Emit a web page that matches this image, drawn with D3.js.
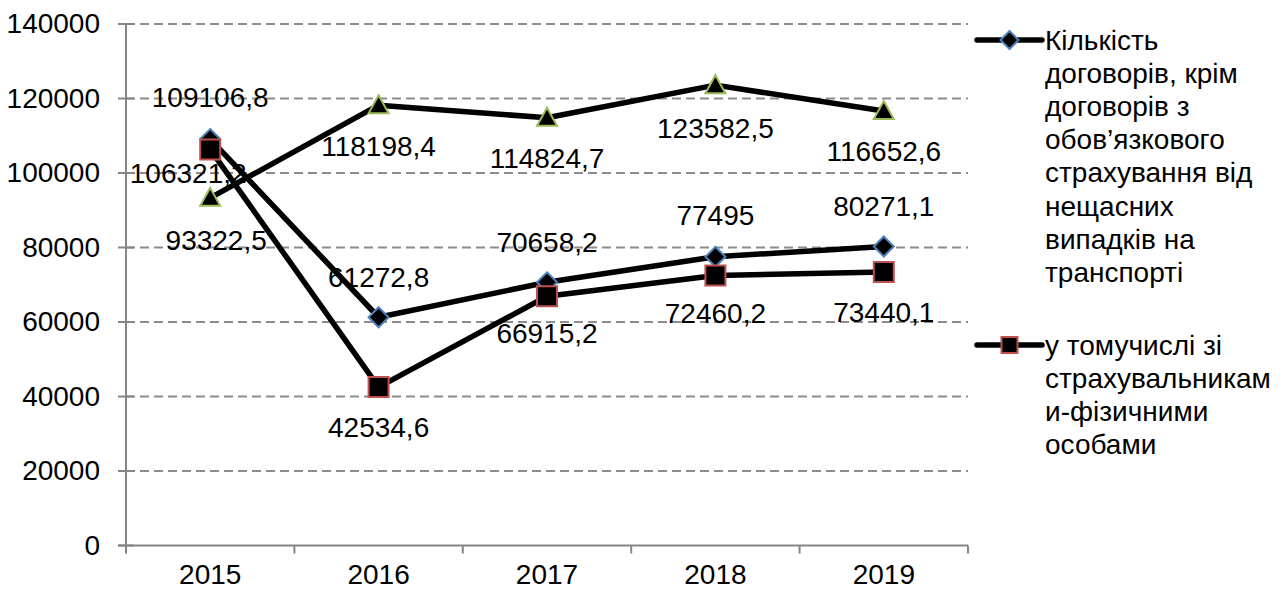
<!DOCTYPE html>
<html>
<head>
<meta charset="utf-8">
<script src="https://cdn.jsdelivr.net/npm/d3@7"></script>
<style>
  body { margin: 0; background: #fff; }
  text { font-family: "Liberation Sans", Arial, sans-serif; fill: #000; }
</style>
</head>
<body>
<script>
var years = ["2015", "2016", "2017", "2018", "2019"];
var contracts = [109106.8, 61272.8, 70658.2, 77495, 80271.1];
var individuals = [106321.2, 42534.6, 66915.2, 72460.2, 73440.1];
var third = [93322.5, 118198.4, 114824.7, 123582.5, 116652.6];
var yTicks = [0, 20000, 40000, 60000, 80000, 100000, 120000, 140000];
var legendContracts = ["Кількість", "договорів, крім", "договорів з", "обов’язкового",
  "страхування від", "нещасних", "випадків на", "транспорті"];
var legendIndividuals = ["у томучислі зі", "страхувальникам", "и-фізичними", "особами"];

var width = 1286, height = 592, fs = 28;

var svg = d3.select("body").append("svg")
  .attr("width", width)
  .attr("height", height);

var x = d3.scaleBand().domain(years).range([126, 968]).padding(0);
var y = d3.scaleLinear().domain([0, 140000]).range([545.5, 24]);

// gridlines
svg.append("g").selectAll("line")
  .data(yTicks.filter(function(d) { return d > 0; }))
  .enter().append("line")
  .attr("x1", 126).attr("x2", 968)
  .attr("y1", function(d) { return y(d); })
  .attr("y2", function(d) { return y(d); })
  .attr("stroke", "#8c8c8c")
  .attr("stroke-width", 2)
  .attr("stroke-dasharray", "9,5");

// y axis
var yAxis = d3.axisLeft(y).tickValues(yTicks).tickSize(0).tickPadding(26).tickFormat(d3.format("d"));
var gy = svg.append("g").attr("transform", "translate(126,0)").call(yAxis);
gy.select(".domain").remove();
gy.selectAll("text").style("font-size", fs + "px");
svg.append("g").selectAll("line").data(yTicks).enter().append("line")
  .attr("x1", 118).attr("x2", 134)
  .attr("y1", function(d) { return y(d); })
  .attr("y2", function(d) { return y(d); })
  .attr("stroke", "#868686").attr("stroke-width", 2);
svg.append("line").attr("x1", 126).attr("x2", 126).attr("y1", y(140000)).attr("y2", y(0) + 8)
  .attr("stroke", "#868686").attr("stroke-width", 2);

// x axis
var xAxis = d3.axisBottom(x).tickSize(0).tickPadding(19);
var gx = svg.append("g").attr("transform", "translate(0," + y(0) + ")").call(xAxis);
gx.select(".domain").remove();
gx.selectAll("text").style("font-size", fs + "px");
svg.append("line").attr("x1", 118).attr("x2", 968).attr("y1", y(0)).attr("y2", y(0))
  .attr("stroke", "#868686").attr("stroke-width", 2);
var bounds = years.map(function(d) { return x(d); }).concat([x.range()[1]]);
svg.append("g").selectAll("line").data(bounds).enter().append("line")
  .attr("x1", function(d) { return d; }).attr("x2", function(d) { return d; })
  .attr("y1", y(0)).attr("y2", y(0) + 8)
  .attr("stroke", "#868686").attr("stroke-width", 2);

function cx(i) { return x(years[i]) + x.bandwidth() / 2; }

var markers = {
  diamond: function(s) { return "M0," + (-s) + "L" + s + ",0L0," + s + "L" + (-s) + ",0Z"; },
  square: function(s) { return "M" + (-s) + "," + (-s) + "H" + s + "V" + s + "H" + (-s) + "Z"; },
  triangle: function(s) { return "M0," + (-s) + "L" + s + "," + (s * 0.8) + "L" + (-s) + "," + (s * 0.8) + "Z"; }
};

var series = [
  { values: third, marker: "triangle", size: 10, stroke: "#9bbb59",
    offsets: [[6, 43], [0, 41], [0, 41], [0, 43], [0, 41]] },
  { values: contracts, marker: "diamond", size: 10, stroke: "#4f81bd",
    offsets: [[0, -42], [0, -40], [0, -40], [0, -41], [0, -40]] },
  { values: individuals, marker: "square", size: 10, stroke: "#c0504d",
    offsets: [[-22, 24], [0, 40], [0, 37], [0, 38], [0, 41]] }
];

var line = d3.line()
  .x(function(d, i) { return cx(i); })
  .y(function(d) { return y(d); });

series.forEach(function(s) {
  svg.append("path").datum(s.values)
    .attr("d", line)
    .attr("fill", "none")
    .attr("stroke", "#000")
    .attr("stroke-width", 5.5)
    .attr("stroke-linejoin", "round");
});

series.forEach(function(s) {
  svg.append("g").selectAll("path").data(s.values).enter().append("path")
    .attr("d", markers[s.marker](s.size))
    .attr("transform", function(d, i) { return "translate(" + cx(i) + "," + y(d) + ")"; })
    .attr("fill", "#000")
    .attr("stroke", s.stroke)
    .attr("stroke-width", 2);
});

var fmt = function(v) { return String(v).replace(".", ","); };
series.forEach(function(s) {
  svg.append("g").selectAll("text").data(s.values).enter().append("text")
    .attr("x", function(d, i) { return cx(i) + s.offsets[i][0]; })
    .attr("y", function(d, i) { return y(d) + s.offsets[i][1]; })
    .attr("text-anchor", "middle")
    .attr("dominant-baseline", "central")
    .style("font-size", fs + "px")
    .text(fmt);
});

// legend
function legendItem(yPos, lines, s) {
  var g = svg.append("g");
  g.append("line").attr("x1", 977).attr("x2", 1042).attr("y1", yPos).attr("y2", yPos)
    .attr("stroke", "#000").attr("stroke-width", 5.5).attr("stroke-linecap", "round");
  g.append("path").attr("d", markers[s.marker](s.marker === "square" ? 8 : 9))
    .attr("transform", "translate(1009.5," + yPos + ")")
    .attr("fill", "#000").attr("stroke", s.stroke).attr("stroke-width", 2);
  g.selectAll("text").data(lines).enter().append("text")
    .attr("x", 1045)
    .attr("y", function(d, i) { return yPos + i * 33.2; })
    .attr("dominant-baseline", "central")
    .style("font-size", fs + "px")
    .text(function(d) { return d; });
}
legendItem(40, legendContracts, series[1]);
legendItem(345, legendIndividuals, series[2]);
</script>
</body>
</html>
